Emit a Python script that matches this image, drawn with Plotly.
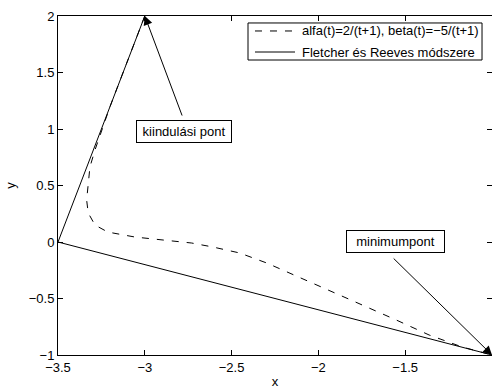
import plotly.graph_objects as go

# Data
fr_x = [-3.0, -3.5, -1.0]
fr_y = [2.0, 0.0, -1.0]

ab_x = [-3.0, -3.1, -3.2, -3.287, -3.316, -3.335, -3.326, -3.287, -3.213, -3.057, -2.885,
        -2.730, -2.609, -2.454, -2.299, -2.207, -2.109, -1.954, -1.879, -1.747, -1.552,
        -1.362, -1.172, -1.0]
ab_y = [2.0, 1.6, 1.2, 0.814, 0.664, 0.372, 0.257, 0.150, 0.088, 0.044, 0.018,
        -0.009, -0.044, -0.097, -0.185, -0.246, -0.313, -0.420, -0.470, -0.558, -0.690,
        -0.823, -0.929, -1.0]

series_names = ["alfa(t)=2/(t+1), beta(t)=\u22125/(t+1)", "Fletcher és Reeves módszere"]

start_pt = (-3.0, 2.0)
min_pt = (-1.0, -1.0)
start_label = "kiindulási pont"
min_label = "minimumpont"
start_tail = (-2.782, 1.106)
min_tail = (-1.575, -0.133)
start_text_pos = (-2.776, 0.982)
min_text_pos = (-1.557, 0.004)

x_ticks = [-3.5, -3, -2.5, -2, -1.5, -1]
y_ticks = [-1, -0.5, 0, 0.5, 1, 1.5, 2]

FONT = "Liberation Sans, Arial, Helvetica, sans-serif"
FS = 13
DASH = "7px,8px"

fig = go.Figure()
fig.add_trace(go.Scatter(x=ab_x, y=ab_y, mode="lines", name=series_names[0],
                         showlegend=False,
                         line=dict(color="black", width=1, dash=DASH)))
fig.add_trace(go.Scatter(x=fr_x, y=fr_y, mode="lines", name=series_names[1],
                         showlegend=False,
                         line=dict(color="black", width=1)))

# arrows
for tip, tail in [(start_pt, start_tail), (min_pt, min_tail)]:
    fig.add_annotation(x=tip[0], y=tip[1], ax=tail[0], ay=tail[1],
                       xref="x", yref="y", axref="x", ayref="y",
                       text="", showarrow=True, arrowhead=2, arrowsize=1.8,
                       arrowwidth=1, arrowcolor="black", standoff=0)
# text boxes
fig.add_annotation(x=start_text_pos[0], y=start_text_pos[1], xref="x", yref="y",
                   text=start_label, showarrow=False, bgcolor="white",
                   bordercolor="black", borderwidth=1, borderpad=3, width=88,
                   font=dict(family=FONT, size=FS, color="black"))
fig.add_annotation(x=min_text_pos[0], y=min_text_pos[1], xref="x", yref="y",
                   text=min_label, showarrow=False, bgcolor="white",
                   bordercolor="black", borderwidth=1, borderpad=3, width=91,
                   font=dict(family=FONT, size=FS, color="black"))

# legend box (MATLAB-style, compact)
fig.add_shape(type="rect", xref="paper", yref="paper", x0=0.4378, x1=0.9770,
              y0=0.8702, y1=0.9794, line=dict(color="black", width=1),
              fillcolor="white", layer="above")
row_y = [0.9558, 0.8938]
row_dash = [DASH, "solid"]
for name, yy, dsh in zip(series_names, row_y, row_dash):
    fig.add_shape(type="line", xref="paper", yref="paper", x0=0.4539, x1=0.5461,
                  y0=yy, y1=yy, line=dict(color="black", width=1, dash=dsh),
                  layer="above")
    fig.add_annotation(x=0.5576, y=yy, xref="paper", yref="paper", text=name,
                       showarrow=False, xanchor="left", yanchor="middle",
                       font=dict(family=FONT, size=FS, color="black"))

axis_common = dict(showgrid=False, zeroline=False, showline=True, linecolor="black",
                   linewidth=1, mirror="ticks", ticks="inside", ticklen=5,
                   tickcolor="black", automargin=False,
                   tickfont=dict(family=FONT, size=FS, color="black"))

fig.update_layout(
    width=492, height=390,
    margin=dict(l=58, r=0, t=16, b=35),
    plot_bgcolor="white", paper_bgcolor="white",
    font=dict(family=FONT, size=FS, color="black"),
    xaxis=dict(range=[-3.5, -1], tickvals=x_ticks,
               title=dict(text="x", standoff=3, font=dict(size=FS)), **axis_common),
    yaxis=dict(range=[-1, 2], tickvals=y_ticks,
               title=dict(text="y", standoff=10, font=dict(size=FS)), **axis_common),
    showlegend=False,
)

fig.write_html("out.html", config={"displayModeBar": False},
               post_script="document.body.style.margin='0';document.body.style.overflow='hidden';")
